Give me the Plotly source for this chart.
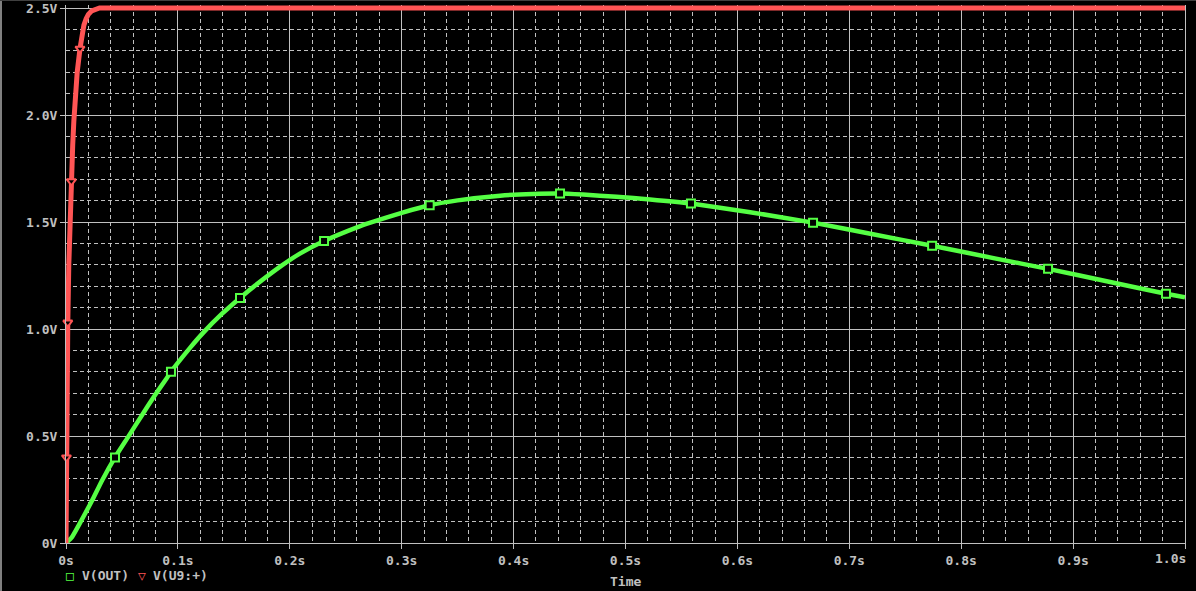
import plotly.graph_objects as go

# ---------------- data ----------------
out_t = [0, 0.005, 0.0116, 0.023, 0.032, 0.0438, 0.0557, 0.0676, 0.0787, 0.09, 0.0938,
         0.111, 0.1225, 0.139, 0.1555, 0.169, 0.193, 0.209, 0.2306, 0.26, 0.272, 0.30,
         0.325, 0.35, 0.388, 0.417, 0.4415, 0.462, 0.492, 0.522, 0.5585, 0.61, 0.6676,
         0.72, 0.774, 0.83, 0.8776, 0.93, 0.983, 1.0]
out_v = [0, 0.025, 0.085, 0.195, 0.29, 0.40, 0.497, 0.595, 0.685, 0.77, 0.80,
         0.913, 0.982, 1.069, 1.145, 1.203, 1.297, 1.352, 1.411, 1.475, 1.497, 1.543,
         1.578, 1.601, 1.623, 1.631, 1.633, 1.628, 1.618, 1.605, 1.586, 1.547, 1.497,
         1.444, 1.389, 1.33, 1.281, 1.223, 1.165, 1.148]

out_mark_t = [0.0438, 0.0938, 0.1555, 0.2306, 0.325, 0.4415, 0.5585, 0.6676, 0.774, 0.8776, 0.983]
out_mark_v = [0.40, 0.80, 1.145, 1.411, 1.578, 1.633, 1.586, 1.497, 1.389, 1.281, 1.165]

u9_t = [0, 0.0004, 0.001, 0.0016, 0.0025, 0.0035, 0.0048, 0.006, 0.007, 0.008, 0.010,
        0.0125, 0.014, 0.016, 0.018, 0.020, 0.023, 0.026, 0.030, 0.040, 1.0]
u9_v = [0, 0.40, 0.75, 1.03, 1.30, 1.50, 1.69, 1.86, 1.97, 2.06, 2.20,
        2.31, 2.37, 2.42, 2.45, 2.47, 2.487, 2.495, 2.5, 2.5, 2.5]

u9_mark_t = [0.0004, 0.0016, 0.0048, 0.0125]
u9_mark_v = [0.40, 1.03, 1.69, 2.31]

x_ticks = [0, 0.1, 0.2, 0.3, 0.4, 0.5, 0.6, 0.7, 0.8, 0.9, 1.0]
x_labels = ["0s", "0.1s", "0.2s", "0.3s", "0.4s", "0.5s", "0.6s", "0.7s", "0.8s", "0.9s", "1.0s"]
y_ticks = [0, 0.5, 1.0, 1.5, 2.0, 2.5]
y_labels = ["0V", "0.5V", "1.0V", "1.5V", "2.0V", "2.5V"]

# ---------------- style ----------------
GREEN = "#55ff44"
RED = "#ff5555"
GRAY = "#c0c0c0"
FONT = dict(family="DejaVu Sans Mono", size=13, color=GRAY, weight="bold")

W, H = 1196, 591
L, R, T, B = 66, 11, 5, 48
PW, PH = W - L - R, H - T - B
PX_PER_V = 214.0
Y_TOP = 2.5 + 3 / PX_PER_V   # small headroom so the 2.5 V line is not clipped


def px_x(px):
    return (px - L) / PW


def px_y(py):
    return (H - B - py) / PH


fig = go.Figure()
fig.add_trace(go.Scatter(x=out_t, y=out_v, mode="lines", name="V(OUT)",
                         line=dict(color=GREEN, width=4.5, shape="spline", smoothing=0.4),
                         hoverinfo="skip", cliponaxis=False))
fig.add_trace(go.Scatter(x=out_mark_t, y=out_mark_v, mode="markers", showlegend=False,
                         marker=dict(symbol="square", size=8, color="black",
                                     line=dict(color=GREEN, width=2)),
                         hoverinfo="skip", cliponaxis=False))
fig.add_trace(go.Scatter(x=u9_t, y=u9_v, mode="lines", name="V(U9:+)",
                         line=dict(color=RED, width=5),
                         hoverinfo="skip", cliponaxis=False))
fig.add_trace(go.Scatter(x=u9_mark_t, y=u9_mark_v, mode="markers", showlegend=False,
                         marker=dict(symbol="triangle-down", size=8, color="black",
                                     line=dict(color=RED, width=2)),
                         hoverinfo="skip", cliponaxis=False))

grid_minor = dict(showgrid=True, gridcolor=GRAY, gridwidth=1, griddash="4px,3px", ticks="")

# last x label drawn as annotation (right-aligned to the plot edge, as in the reference)
fig.update_xaxes(range=[0, 1.0], tickvals=x_ticks, ticktext=x_labels[:-1] + [""], tickfont=FONT,
                 showgrid=True, gridcolor=GRAY, gridwidth=1,
                 ticks="outside", ticklen=5, tickcolor=GRAY, tickwidth=1,
                 showline=True, linecolor=GRAY, linewidth=1, mirror=False,
                 zeroline=False, automargin=False, minor=dict(dtick=0.02, **grid_minor))
fig.update_yaxes(range=[0, Y_TOP], tickvals=y_ticks, ticktext=y_labels, tickfont=FONT,
                 showgrid=True, gridcolor=GRAY, gridwidth=1,
                 ticks="outside", ticklen=5, tickcolor=GRAY, tickwidth=1,
                 showline=True, linecolor=GRAY, linewidth=1, mirror=True,
                 zeroline=False, automargin=False, minor=dict(dtick=0.1, **grid_minor))

ann = [
    dict(text=x_labels[-1], x=px_x(1187), y=px_y(558), font=FONT, xanchor="right"),
    dict(text="□", x=px_x(70), y=px_y(575), font=dict(FONT, color=GREEN), xanchor="center"),
    dict(text="V(OUT)", x=px_x(81), y=px_y(575), font=FONT, xanchor="left"),
    dict(text="▽", x=px_x(142), y=px_y(575), font=dict(FONT, color=RED), xanchor="center"),
    dict(text="V(U9:+)", x=px_x(152), y=px_y(575), font=FONT, xanchor="left"),
    dict(text="Time", x=0.5, y=px_y(581), font=FONT, xanchor="center"),
]
for a in ann:
    fig.add_annotation(xref="paper", yref="paper", showarrow=False, yanchor="middle",
                       borderpad=0, **a)

fig.add_shape(type="line", xref="paper", yref="paper", x0=px_x(1), x1=px_x(1),
              y0=px_y(0), y1=px_y(H), line=dict(color="#808080", width=2), layer="above")
fig.add_shape(type="line", xref="paper", yref="paper", x0=px_x(0), x1=px_x(W),
              y0=px_y(0.5), y1=px_y(0.5), line=dict(color="#404040", width=1), layer="above")

fig.update_layout(width=W, height=H, margin=dict(l=L, r=R, t=T, b=B, autoexpand=False),
                  paper_bgcolor="black", plot_bgcolor="black", showlegend=False,
                  font=FONT)

fig.write_html("out.html", config={"displayModeBar": False},
               post_script="document.body.style.margin='0';"
                           "document.body.style.background='black';")
